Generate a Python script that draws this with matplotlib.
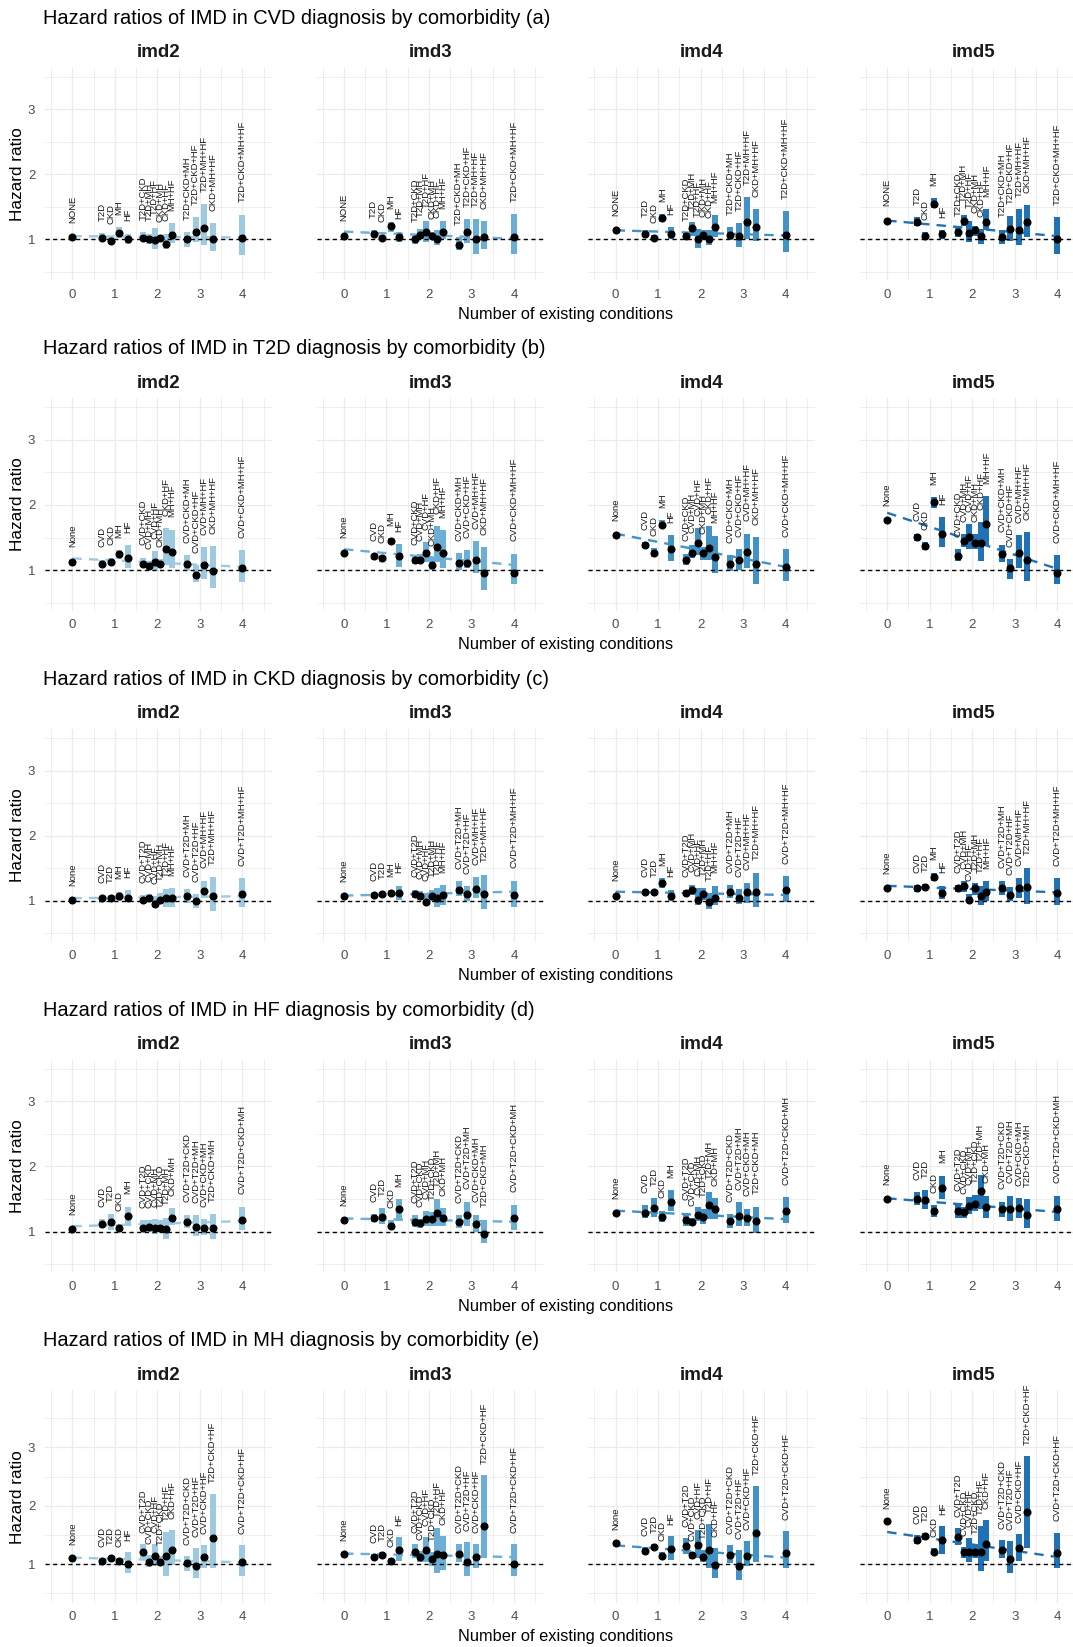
import matplotlib.pyplot as plt
import numpy as np

plt.rcParams['font.family'] = ['Liberation Sans', 'DejaVu Sans']

# number of existing conditions for each comorbidity pattern
n_cond = [0, 1, 1, 1, 1, 2, 2, 2, 2, 2, 2, 3, 3, 3, 3, 4]
imd_groups = ['imd2', 'imd3', 'imd4', 'imd5']
imd_colors = ['#9ecae1', '#6baed6', '#4292c6', '#2171b5']

# ---- CVD (a)
cvd_labels = ["NONE", "T2D", "CKD", "MH", "HF", "T2D+CKD", "T2D+MH", "T2D+HF", "CKD+MH", "CKD+HF",
              "MH+HF", "T2D+CKD+MH", "T2D+CKD+HF", "T2D+MH+HF", "CKD+MH+HF", "T2D+CKD+MH+HF"]
cvd_hr = [[1.03, 1.02, 0.98, 1.10, 1.00, 1.02, 1.00, 0.99, 1.02, 0.93, 1.07, 1.00, 1.12, 1.17, 1.00, 1.02],
          [1.06, 1.08, 1.02, 1.20, 1.03, 1.00, 1.07, 1.11, 1.06, 1.00, 1.12, 0.92, 1.11, 1.00, 1.04, 1.04],
          [1.14, 1.09, 1.02, 1.33, 1.08, 1.05, 1.17, 1.00, 1.07, 1.00, 1.19, 1.07, 1.06, 1.27, 1.19, 1.07],
          [1.29, 1.27, 1.06, 1.54, 1.08, 1.12, 1.29, 1.10, 1.14, 1.05, 1.27, 1.03, 1.16, 1.14, 1.26, 1.00]]
cvd_lo = [[1.00, 0.99, 0.93, 1.02, 0.93, 0.99, 0.93, 0.86, 0.97, 0.86, 0.94, 0.88, 0.96, 0.91, 0.82, 0.76],
          [1.03, 1.04, 0.97, 1.12, 0.96, 0.93, 1.01, 0.96, 1.00, 0.91, 1.00, 0.83, 0.94, 0.78, 0.86, 0.78],
          [1.11, 1.04, 0.98, 1.26, 1.00, 1.00, 1.06, 0.87, 0.99, 0.91, 1.04, 0.99, 0.88, 1.00, 0.98, 0.80],
          [1.26, 1.21, 1.01, 1.48, 1.01, 1.04, 1.20, 0.96, 1.06, 0.93, 1.14, 0.93, 0.98, 0.91, 1.03, 0.77]]
cvd_hi = [[1.06, 1.10, 1.05, 1.19, 1.09, 1.11, 1.09, 1.18, 1.07, 1.09, 1.25, 1.11, 1.34, 1.54, 1.25, 1.38],
          [1.09, 1.14, 1.07, 1.27, 1.12, 1.07, 1.16, 1.29, 1.12, 1.14, 1.28, 1.03, 1.31, 1.31, 1.28, 1.39],
          [1.17, 1.15, 1.06, 1.39, 1.19, 1.10, 1.26, 1.16, 1.15, 1.14, 1.37, 1.19, 1.25, 1.65, 1.46, 1.43],
          [1.32, 1.34, 1.11, 1.63, 1.14, 1.17, 1.38, 1.29, 1.21, 1.16, 1.46, 1.15, 1.36, 1.46, 1.53, 1.34]]
cvd_trend = [[1.05, 1.03], [1.12, 1.01], [1.14, 1.06], [1.29, 1.05]]

# ---- T2D (b)
t2d_labels = ["None", "CVD", "CKD", "MH", "HF", "CVD+CKD", "CVD+MH", "CVD+HF", "CKD+MH", "CKD+HF",
              "MH+HF", "CVD+CKD+MH", "CVD+CKD+HF", "CVD+MH+HF", "CKD+MH+HF", "CVD+CKD+MH+HF"]
t2d_hr = [[1.12, 1.10, 1.13, 1.24, 1.19, 1.10, 1.07, 1.12, 1.10, 1.33, 1.28, 1.10, 0.93, 1.08, 0.99, 1.04],
          [1.27, 1.21, 1.18, 1.45, 1.21, 1.15, 1.16, 1.26, 1.08, 1.36, 1.27, 1.11, 1.11, 1.16, 0.96, 0.96],
          [1.54, 1.39, 1.27, 1.70, 1.32, 1.15, 1.26, 1.42, 1.26, 1.34, 1.20, 1.09, 1.16, 1.28, 1.09, 1.05],
          [1.77, 1.51, 1.37, 2.04, 1.55, 1.22, 1.44, 1.51, 1.42, 1.41, 1.71, 1.25, 1.03, 1.26, 1.15, 0.96]]
t2d_lo = [[1.08, 1.05, 1.08, 1.17, 1.03, 1.05, 1.00, 0.98, 1.04, 1.08, 1.03, 0.98, 0.81, 0.87, 0.72, 0.82],
          [1.24, 1.16, 1.13, 1.40, 1.05, 1.10, 1.10, 1.13, 1.00, 1.13, 1.03, 1.00, 1.03, 0.96, 0.70, 0.78],
          [1.51, 1.34, 1.20, 1.64, 1.14, 1.08, 1.18, 1.23, 1.16, 1.15, 0.96, 0.98, 1.00, 1.04, 0.79, 0.84],
          [1.73, 1.45, 1.31, 1.96, 1.35, 1.14, 1.36, 1.33, 1.32, 1.14, 1.38, 1.13, 0.87, 1.03, 0.84, 0.78]]
t2d_hi = [[1.16, 1.16, 1.19, 1.31, 1.38, 1.19, 1.14, 1.29, 1.17, 1.64, 1.62, 1.23, 1.08, 1.35, 1.37, 1.31],
          [1.30, 1.25, 1.23, 1.49, 1.40, 1.20, 1.25, 1.43, 1.18, 1.67, 1.61, 1.26, 1.31, 1.44, 1.35, 1.25],
          [1.57, 1.43, 1.34, 1.77, 1.54, 1.25, 1.38, 1.64, 1.36, 1.67, 1.53, 1.23, 1.32, 1.56, 1.51, 1.32],
          [1.80, 1.56, 1.43, 2.12, 1.81, 1.32, 1.55, 1.71, 1.55, 1.74, 2.14, 1.39, 1.17, 1.54, 1.58, 1.23]]
t2d_trend = [[1.18, 1.05], [1.32, 1.08], [1.56, 1.05], [1.88, 1.02]]

# ---- CKD (c)
ckd_labels = ["None", "CVD", "T2D", "MH", "HF", "CVD+T2D", "CVD+MH", "CVD+HF", "T2D+MH", "T2D+HF",
              "MH+HF", "CVD+T2D+MH", "CVD+T2D+HF", "CVD+MH+HF", "T2D+MH+HF", "CVD+T2D+MH+HF"]
ckd_hr = [[1.02, 1.05, 1.05, 1.07, 1.05, 1.02, 1.05, 0.95, 1.02, 1.04, 1.04, 1.07, 0.99, 1.15, 1.07, 1.10],
          [1.07, 1.09, 1.10, 1.12, 1.12, 1.11, 1.08, 0.98, 1.07, 1.04, 1.09, 1.17, 1.10, 1.18, 1.10, 1.09],
          [1.08, 1.14, 1.14, 1.28, 1.07, 1.12, 1.17, 1.02, 1.10, 0.98, 1.05, 1.13, 1.05, 1.13, 1.13, 1.16],
          [1.19, 1.19, 1.21, 1.36, 1.12, 1.19, 1.22, 1.02, 1.19, 1.07, 1.13, 1.19, 1.09, 1.20, 1.21, 1.12]]
ckd_lo = [[0.99, 1.02, 1.02, 1.00, 0.99, 0.96, 1.00, 0.91, 0.95, 0.90, 0.90, 0.96, 0.89, 1.05, 0.84, 0.90],
          [1.04, 1.05, 1.06, 1.07, 1.02, 1.04, 1.02, 0.93, 0.99, 0.90, 0.94, 1.07, 0.99, 1.04, 0.87, 0.90],
          [1.05, 1.10, 1.10, 1.20, 0.99, 1.07, 1.09, 0.94, 1.01, 0.87, 0.94, 1.04, 0.95, 0.96, 0.90, 0.98],
          [1.16, 1.14, 1.16, 1.30, 1.03, 1.14, 1.14, 0.96, 1.09, 0.94, 0.99, 1.09, 0.99, 1.04, 0.95, 0.94]]
ckd_hi = [[1.04, 1.08, 1.09, 1.14, 1.16, 1.09, 1.10, 1.07, 1.12, 1.18, 1.19, 1.18, 1.10, 1.31, 1.36, 1.35],
          [1.10, 1.12, 1.14, 1.17, 1.23, 1.17, 1.15, 1.12, 1.17, 1.19, 1.24, 1.30, 1.22, 1.36, 1.40, 1.31],
          [1.11, 1.17, 1.17, 1.35, 1.17, 1.17, 1.25, 1.19, 1.19, 1.12, 1.23, 1.24, 1.18, 1.28, 1.43, 1.38],
          [1.22, 1.24, 1.26, 1.43, 1.23, 1.24, 1.30, 1.11, 1.27, 1.23, 1.30, 1.31, 1.21, 1.35, 1.51, 1.35]]
ckd_trend = [[1.04, 1.07], [1.08, 1.14], [1.14, 1.09], [1.23, 1.13]]

# ---- HF (d)
hf_labels = ["None", "CVD", "T2D", "CKD", "MH", "CVD+T2D", "CVD+CKD", "CVD+MH", "T2D+CKD", "T2D+MH",
             "CKD+MH", "CVD+T2D+CKD", "CVD+T2D+MH", "CVD+CKD+MH", "T2D+CKD+MH", "CVD+T2D+CKD+MH"]
hf_hr = [[1.04, 1.11, 1.15, 1.05, 1.24, 1.05, 1.07, 1.06, 1.05, 1.04, 1.21, 1.14, 1.07, 1.05, 1.05, 1.17],
         [1.17, 1.21, 1.22, 1.09, 1.35, 1.14, 1.13, 1.19, 1.19, 1.28, 1.21, 1.14, 1.26, 1.12, 0.96, 1.20],
         [1.28, 1.29, 1.36, 1.22, 1.46, 1.18, 1.14, 1.26, 1.22, 1.40, 1.34, 1.16, 1.24, 1.21, 1.16, 1.31],
         [1.50, 1.50, 1.48, 1.32, 1.67, 1.32, 1.30, 1.39, 1.43, 1.62, 1.37, 1.35, 1.35, 1.36, 1.26, 1.34]]
hf_lo = [[1.01, 1.05, 1.03, 1.00, 1.08, 0.99, 1.00, 0.96, 0.98, 0.88, 1.10, 1.05, 0.93, 0.94, 0.89, 1.02],
         [1.14, 1.14, 1.12, 1.04, 1.16, 1.07, 1.06, 1.09, 1.09, 1.09, 1.08, 1.05, 1.08, 0.99, 0.82, 1.03],
         [1.25, 1.20, 1.23, 1.14, 1.32, 1.08, 1.08, 1.16, 1.12, 1.19, 1.19, 1.06, 1.08, 1.08, 0.98, 1.13],
         [1.47, 1.40, 1.34, 1.23, 1.50, 1.21, 1.21, 1.27, 1.32, 1.35, 1.21, 1.23, 1.16, 1.21, 1.06, 1.16]]
hf_hi = [[1.07, 1.19, 1.27, 1.12, 1.38, 1.17, 1.17, 1.19, 1.17, 1.21, 1.36, 1.26, 1.25, 1.19, 1.27, 1.38],
         [1.20, 1.27, 1.36, 1.17, 1.50, 1.25, 1.19, 1.31, 1.30, 1.50, 1.36, 1.25, 1.46, 1.26, 1.18, 1.41],
         [1.31, 1.40, 1.51, 1.32, 1.63, 1.29, 1.20, 1.37, 1.34, 1.61, 1.51, 1.27, 1.45, 1.35, 1.38, 1.53],
         [1.53, 1.60, 1.63, 1.40, 1.86, 1.43, 1.38, 1.53, 1.56, 1.87, 1.55, 1.46, 1.55, 1.51, 1.50, 1.55]]
hf_trend = [[1.08, 1.16], [1.20, 1.15], [1.32, 1.19], [1.51, 1.30]]

# ---- MH (e)
mh_labels = ["None", "CVD", "T2D", "CKD", "HF", "CVD+T2D", "CVD+CKD", "CVD+HF", "T2D+CKD", "T2D+HF",
             "CKD+HF", "CVD+T2D+CKD", "CVD+T2D+HF", "CVD+CKD+HF", "T2D+CKD+HF", "CVD+T2D+CKD+HF"]
mh_hr = [[1.11, 1.06, 1.10, 1.06, 1.00, 1.20, 1.04, 1.14, 1.04, 1.13, 1.24, 1.01, 0.97, 1.12, 1.44, 1.03],
         [1.18, 1.12, 1.16, 1.05, 1.24, 1.21, 1.12, 1.24, 1.09, 1.17, 1.16, 1.17, 1.04, 1.12, 1.65, 1.00],
         [1.36, 1.23, 1.30, 1.14, 1.25, 1.31, 1.15, 1.32, 1.12, 1.24, 0.98, 1.15, 0.96, 1.14, 1.54, 1.19],
         [1.73, 1.42, 1.48, 1.21, 1.41, 1.46, 1.20, 1.21, 1.21, 1.20, 1.35, 1.24, 1.09, 1.27, 1.90, 1.19]]
mh_lo = [[1.08, 1.03, 1.06, 1.02, 0.84, 1.09, 0.95, 0.96, 0.96, 0.80, 0.98, 0.88, 0.76, 0.94, 0.94, 0.80],
         [1.15, 1.09, 1.11, 1.00, 1.05, 1.11, 1.04, 1.04, 0.97, 0.84, 0.90, 1.04, 0.80, 0.94, 1.10, 0.79],
         [1.33, 1.18, 1.26, 1.09, 1.07, 1.18, 1.08, 1.10, 1.04, 0.93, 0.76, 1.01, 0.73, 0.96, 1.04, 0.94],
         [1.70, 1.35, 1.42, 1.15, 1.18, 1.33, 1.11, 1.03, 1.10, 0.88, 1.05, 1.10, 0.84, 1.05, 1.28, 0.94]]
mh_hi = [[1.14, 1.10, 1.14, 1.10, 1.20, 1.34, 1.15, 1.35, 1.14, 1.55, 1.58, 1.14, 1.27, 1.32, 2.20, 1.32],
         [1.21, 1.17, 1.21, 1.10, 1.47, 1.34, 1.23, 1.47, 1.21, 1.62, 1.48, 1.34, 1.37, 1.35, 2.52, 1.34],
         [1.39, 1.29, 1.35, 1.21, 1.48, 1.45, 1.21, 1.58, 1.24, 1.69, 1.27, 1.32, 1.24, 1.39, 2.34, 1.56],
         [1.76, 1.50, 1.53, 1.28, 1.65, 1.62, 1.29, 1.45, 1.33, 1.65, 1.75, 1.41, 1.39, 1.52, 2.86, 1.54]]
mh_trend = [[1.11, 1.03], [1.18, 1.12], [1.32, 1.11], [1.55, 1.12]]

outcomes = ['CVD', 'T2D', 'CKD', 'HF', 'MH']
letters = ['a', 'b', 'c', 'd', 'e']
rows = [(cvd_labels, cvd_hr, cvd_lo, cvd_hi, cvd_trend),
        (t2d_labels, t2d_hr, t2d_lo, t2d_hi, t2d_trend),
        (ckd_labels, ckd_hr, ckd_lo, ckd_hi, ckd_trend),
        (hf_labels, hf_hr, hf_lo, hf_hi, hf_trend),
        (mh_labels, mh_hr, mh_lo, mh_hi, mh_trend)]


def dodge(n, width=0.8):
    # spread patterns with the same number of conditions like position_dodge
    n = np.asarray(n)
    x = n.astype(float)
    for k in np.unique(n):
        idx = np.where(n == k)[0]
        m = len(idx)
        x[idx] = k - width / 2 + width * (np.arange(m) + 0.5) / m
    return x


W, H = 1073, 1647
fig = plt.figure(figsize=(W / 100, H / 100), dpi=100)

xpos = dodge(n_cond)
row_step = 330.7
panel_left = 45.0
panel_step = 271.6
panel_w = 227.1
panel_h = 212.8

for r, (labels, hr, lo, hi, trend) in enumerate(rows):
    top = 67.5 + row_step * r
    ylim = (0.33, 3.98) if r == 4 else (0.372, 3.64)
    fig.text(43 / W, 1 - (18 + row_step * r) / H,
             f"Hazard ratios of IMD in {outcomes[r]} diagnosis by comorbidity ({letters[r]})",
             ha='left', va='center', fontsize=14.4, color='black')
    for c in range(4):
        left = panel_left + panel_step * c
        ax = fig.add_axes([left / W, 1 - (top + panel_h) / H, panel_w / W, panel_h / H])
        col = imd_colors[c]
        h = np.array(hr[c])
        l = np.array(lo[c])
        u = np.array(hi[c])

        ax.plot([0, 4], trend[c], color=col, lw=1.7, ls=(0, (4, 3)), zorder=1.5)
        ax.bar(xpos, u - l, bottom=l, width=0.14, color=col, linewidth=0, zorder=2)
        ax.axhline(1, color='black', lw=1.0, ls=(0, (3, 2.5)), zorder=3)
        ax.plot(xpos, h, 'o', color='black', ms=4.8, zorder=4)
        for xi, ui, lab in zip(xpos, u, labels):
            ax.text(xi, ui + 0.19, lab, rotation=90, ha='center', va='bottom',
                    fontsize=6.8, color='#1a1a1a', zorder=5)

        ax.set_xlim(-0.644, 4.70)
        ax.set_ylim(*ylim)
        ax.set_xticks(range(5))
        ax.set_xticks(np.arange(-0.5, 5, 1), minor=True)
        ax.set_yticks([1, 2, 3])
        ax.set_yticks([0.5, 1.5, 2.5, 3.5], minor=True)
        ax.grid(which='major', color='#ebebeb', lw=0.9)
        ax.grid(which='minor', color='#ebebeb', lw=0.6)
        ax.set_axisbelow(True)
        for s in ax.spines.values():
            s.set_visible(False)
        ax.tick_params(which='both', length=0, labelsize=9.5, labelcolor='#4d4d4d')
        ax.tick_params(axis='x', pad=6)
        ax.tick_params(axis='y', pad=7)
        if c > 0:
            ax.set_yticklabels([])

        fig.text((left + panel_w / 2) / W, 1 - (52.5 + row_step * r) / H, imd_groups[c],
                 ha='center', va='center', fontsize=13.5, fontweight='bold', color='#1a1a1a')

    fig.text(566 / W, 1 - (314 + row_step * r) / H, "Number of existing conditions",
             ha='center', va='center', fontsize=11.8, color='black')
    fig.text(17.8 / W, 1 - (top + panel_h / 2) / H, "Hazard ratio", rotation=90,
             ha='center', va='center', fontsize=12.3, color='black')

fig.savefig('out.png', dpi=100)
